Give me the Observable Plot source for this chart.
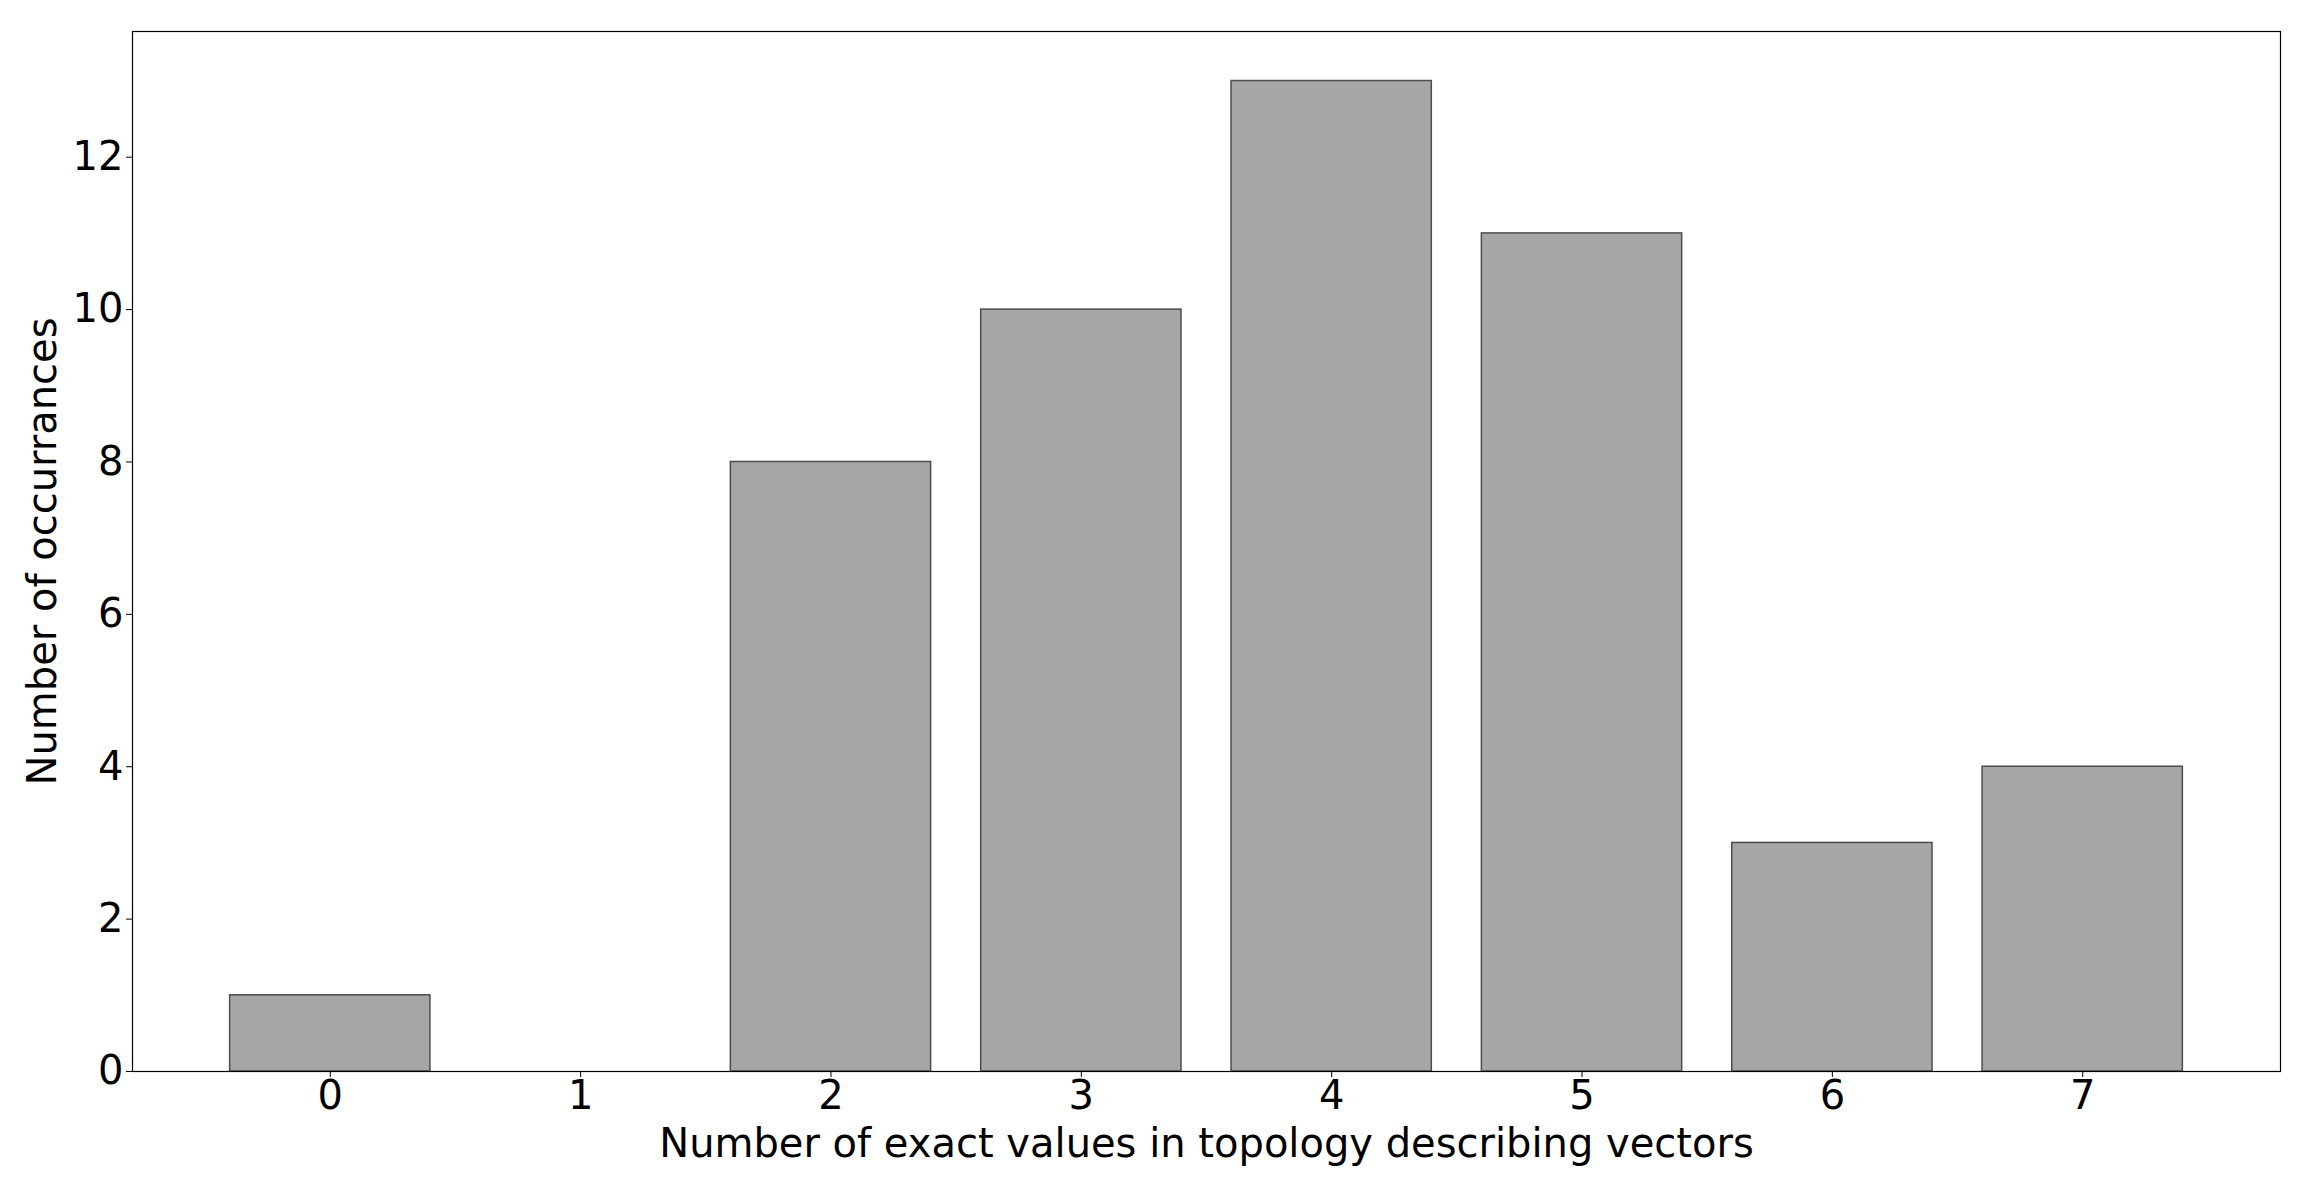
<!DOCTYPE html>
<html>
<head>
<meta charset="utf-8">
<script src="https://cdn.jsdelivr.net/npm/d3@7"></script>
<script src="https://cdn.jsdelivr.net/npm/@observablehq/plot@0.6"></script>
<style>
  html, body { margin: 0; padding: 0; background: #fff; }
  #chart svg { display: block; }
</style>
</head>
<body>
<div id="chart"></div>
<script>
const categories = [0, 1, 2, 3, 4, 5, 6, 7];
const counts = [1, 0, 8, 10, 13, 11, 3, 4];
const yTicks = [0, 2, 4, 6, 8, 10, 12];
const xLabel = "Number of exact values in topology describing vectors";
const yLabel = "Number of occurrances";

const data = categories.map((c, i) => ({k: c, v: counts[i]}));
const halfWidth = 0.4;

const chart = Plot.plot({
  width: 2300,
  height: 1181,
  marginLeft: 132,
  marginRight: 20,
  marginTop: 31,
  marginBottom: 110,
  style: {fontFamily: "DejaVu Sans", fontSize: "40px", color: "#000", background: "#fff"},
  x: {type: "linear", domain: [-0.79, 7.79]},
  y: {domain: [0, 13.65]},
  marks: [
    Plot.rectY(data, {
      x1: d => d.k - halfWidth,
      x2: d => d.k + halfWidth,
      y: "v",
      fill: "#a6a6a6",
      stroke: "#4d4d4d",
      strokeWidth: 1.5
    }),
    Plot.frame({stroke: "#000", strokeWidth: 1.2}),
    Plot.axisX({ticks: categories, tickFormat: d3.format("d"), tickSize: 6, tickPadding: 3, label: null, fontSize: 40}),
    Plot.axisY({ticks: yTicks, tickFormat: d3.format("d"), tickSize: 6, tickPadding: 3, label: null, fontSize: 40}),
    Plot.text([xLabel], {frameAnchor: "bottom", dy: 57, lineAnchor: "top", textAnchor: "middle", text: d => d, fontSize: 40}),
    Plot.text([yLabel], {frameAnchor: "left", dx: -89, rotate: -90, lineAnchor: "middle", textAnchor: "middle", text: d => d, fontSize: 40})
  ]
});
document.getElementById("chart").appendChild(chart);
</script>
</body>
</html>
